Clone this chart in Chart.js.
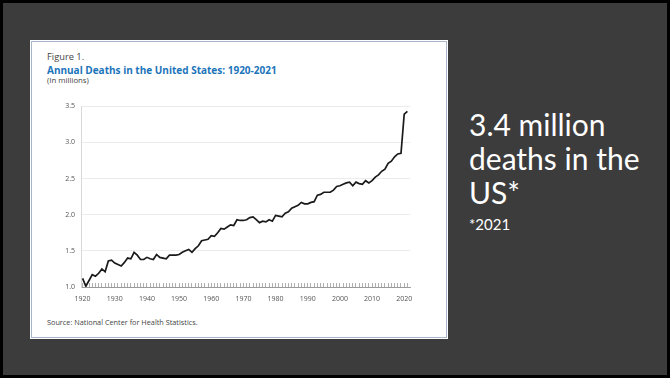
<!DOCTYPE html>
<html>
<head>
<meta charset="utf-8">
<title>Annual Deaths in the United States</title>
<script src="https://cdn.jsdelivr.net/npm/chart.js@4.4.1/dist/chart.umd.min.js"></script>
<style>
  html, body { margin: 0; padding: 0; }
  body { width: 670px; height: 378px; background: #000; position: relative; overflow: hidden; font-family: "Open Sans", Lato, sans-serif; }
  .slide { position: absolute; left: 3px; top: 3px; width: 664px; height: 372px; background: #3c3c3c; }
  .card { position: absolute; left: 31px; top: 41px; width: 416px; height: 297px; background: #fff;
          box-sizing: border-box; border: 1px solid #a6b7cb; outline: 1px solid #fff; }
  .txt { position: absolute; left: 47px; white-space: nowrap; color: #444; }
  #fig { top: 51px; font-size: 9.3px; line-height: 12px; }
  #title { top: 64px; font-size: 10px; line-height: 12px; font-weight: bold; color: #1b74ba; }
  #unit { top: 75px; font-size: 7.8px; line-height: 11px; }
  #source { top: 317px; font-size: 7.3px; line-height: 11px; }
  #chartBox { position: absolute; left: 40px; top: 96px; width: 390px; height: 220px; }
  .big { position: absolute; left: 469px; top: 107px; color: #fff; font-family: Lato, sans-serif; font-size: 30px; line-height: 34px; white-space: nowrap; }
  .note { position: absolute; left: 469px; top: 215px; color: #fff; font-family: Lato, sans-serif; font-size: 15px; line-height: 18px; }
</style>
</head>
<body>
<div class="slide"></div>
<div class="card"></div>
<div class="txt" id="fig">Figure 1.</div>
<div class="txt" id="title">Annual Deaths in the United States: 1920-2021</div>
<div class="txt" id="unit">(In millions)</div>
<div class="txt" id="source">Source: National Center for Health Statistics.</div>
<div id="chartBox"><canvas id="deathsChart" width="390" height="220"></canvas></div>
<div class="big">3.4 million<br>deaths in the<br>US*</div>
<div class="note">*2021</div>

<script>
const years = [
    1920, 1921, 1922, 1923, 1924, 1925, 1926, 1927, 1928, 1929,
    1930, 1931, 1932, 1933, 1934, 1935, 1936, 1937, 1938, 1939,
    1940, 1941, 1942, 1943, 1944, 1945, 1946, 1947, 1948, 1949,
    1950, 1951, 1952, 1953, 1954, 1955, 1956, 1957, 1958, 1959,
    1960, 1961, 1962, 1963, 1964, 1965, 1966, 1967, 1968, 1969,
    1970, 1971, 1972, 1973, 1974, 1975, 1976, 1977, 1978, 1979,
    1980, 1981, 1982, 1983, 1984, 1985, 1986, 1987, 1988, 1989,
    1990, 1991, 1992, 1993, 1994, 1995, 1996, 1997, 1998, 1999,
    2000, 2001, 2002, 2003, 2004, 2005, 2006, 2007, 2008, 2009,
    2010, 2011, 2012, 2013, 2014, 2015, 2016, 2017, 2018, 2019,
    2020, 2021
];

// deaths in millions
const deaths = [
    1.12, 1.01, 1.09, 1.17, 1.15, 1.19, 1.25, 1.21, 1.36, 1.37,
    1.33, 1.31, 1.29, 1.34, 1.40, 1.39, 1.48, 1.44, 1.38, 1.38,
    1.41, 1.39, 1.38, 1.45, 1.41, 1.40, 1.39, 1.44, 1.44, 1.44,
    1.45, 1.48, 1.50, 1.52, 1.48, 1.53, 1.57, 1.64, 1.65, 1.66,
    1.71, 1.70, 1.75, 1.81, 1.80, 1.83, 1.86, 1.85, 1.93, 1.92,
    1.92, 1.93, 1.96, 1.97, 1.93, 1.89, 1.91, 1.90, 1.93, 1.91,
    1.99, 1.98, 1.97, 2.02, 2.04, 2.09, 2.11, 2.13, 2.17, 2.15,
    2.15, 2.17, 2.18, 2.27, 2.28, 2.31, 2.31, 2.31, 2.34, 2.39,
    2.40, 2.42, 2.44, 2.45, 2.40, 2.45, 2.43, 2.42, 2.47, 2.44,
    2.47, 2.52, 2.55, 2.60, 2.63, 2.71, 2.74, 2.80, 2.84, 2.85,
    3.39, 3.43
];

const yTicks = [1.0, 1.5, 2.0, 2.5, 3.0, 3.5];
const xLabelStep = 10;

const tickFont = { family: '"Open Sans", Lato, sans-serif', size: 7 };

new Chart(document.getElementById('deathsChart'), {
    type: 'line',
    data: {
        datasets: [{
            data: years.map((yr, i) => ({ x: yr, y: deaths[i] })),
            borderColor: '#1a1a1a',
            borderWidth: 1.7,
            pointRadius: 0,
            tension: 0
        }]
    },
    options: {
        responsive: false,
        animation: false,
        layout: { padding: { top: 10, right: 20, left: 0, bottom: 0 } },
        plugins: { legend: { display: false }, tooltip: { enabled: false } },
        scales: {
            x: {
                type: 'linear',
                min: 1919.5,
                max: 2021.8,
                afterFit: s => { s.height = 29; },
                grid: { drawOnChartArea: false, drawTicks: true, tickLength: -4, color: '#9a9a9a', lineWidth: 0.8 },
                border: { color: '#9a9a9a' },
                ticks: {
                    stepSize: 1,
                    autoSkip: false,
                    includeBounds: false,
                    maxRotation: 0,
                    padding: 12,
                    color: '#555',
                    font: tickFont,
                    callback: v => (v % xLabelStep === 0 ? String(v) : '')
                }
            },
            y: {
                min: yTicks[0],
                max: yTicks[yTicks.length - 1],
                afterFit: s => { s.width = 41; },
                afterBuildTicks: s => { s.ticks = yTicks.map(v => ({ value: v })); },
                grid: { color: '#ececec', drawTicks: false },
                border: { color: '#d8d8d8' },
                ticks: {
                    padding: 6,
                    color: '#555',
                    font: tickFont,
                    callback: v => v.toFixed(1)
                }
            }
        }
    }
});
</script>
</body>
</html>
